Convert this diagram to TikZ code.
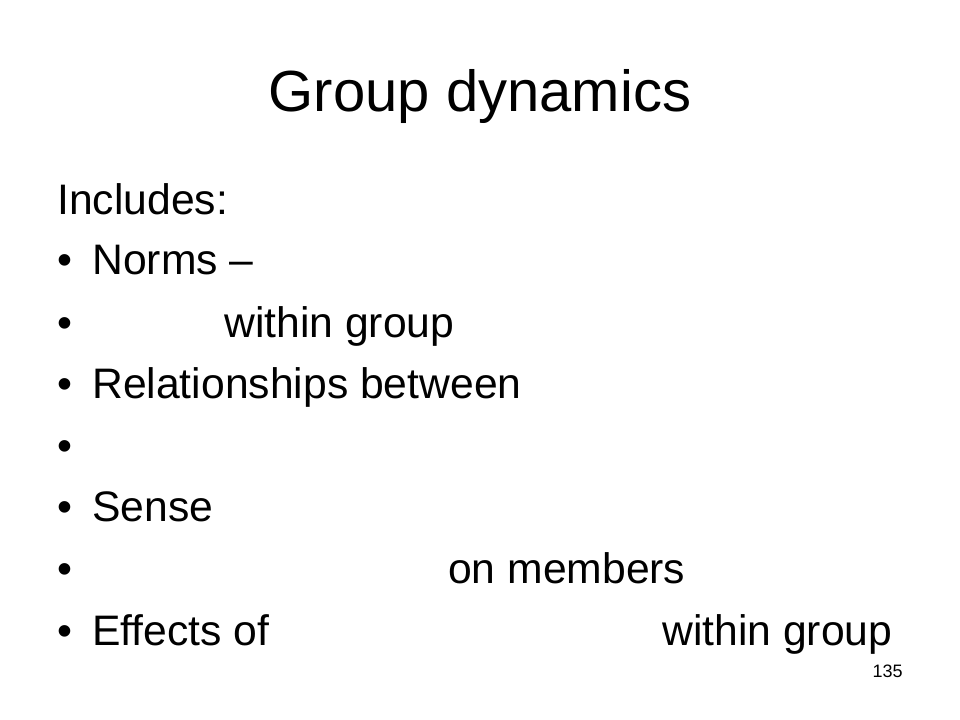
\documentclass[tikz,border=0pt]{standalone}
\usepackage{fontspec}
\setmainfont[Ligatures=NoCommon]{Liberation Sans}
\tikzset{
    titlenode/.style = {
        font=\fontsize{43.5pt}{52pt}\selectfont,
        inner sep=0pt,
        anchor=base
    },
    textnode/.style = {
        font=\fontsize{32pt}{38pt}\selectfont,
        inner sep=0pt,
        anchor=base west
    },
    bulletnode/.style = {
        textnode
    },
    pagenode/.style = {
        font=\fontsize{13.5pt}{16pt}\selectfont,
        inner sep=0pt,
        anchor=base east
    }
}
\begin{document}
\begin{tikzpicture}[x=0.75pt,y=-0.75pt]
    \useasboundingbox[fill=white] (0,0) rectangle (960,720);
    \node [titlenode] (title) at (480,112) {Group dynamics};
    \node [textnode] (includes) at (57,215) {Includes:};
    % bullet points
    \node [bulletnode] (b1) at (57.5,275) {•};
    \node [textnode] (norms) at (92,275) {Norms –};
    \node [bulletnode] (b2) at (57.5,337) {•};
    \node [textnode] (within1) at (224,337) {within group};
    \node [bulletnode] (b3) at (57.5,398) {•};
    \node [textnode] (relations) at (92,398) {Relationships between};
    \node [bulletnode] (b4) at (57.5,460) {•};
    \node [bulletnode] (b5) at (57.5,521) {•};
    \node [textnode] (sense) at (92,521) {Sense};
    \node [bulletnode] (b6) at (57.5,583) {•};
    \node [textnode] (members) at (448,583) {on members};
    \node [bulletnode] (b7) at (57.5,645) {•};
    \node [textnode] (effects) at (92,645) {Effects of};
    \node [textnode] (within2) at (662,645) {within group};
    \node [pagenode] (page) at (903,677) {135};
\end{tikzpicture}
\end{document}
